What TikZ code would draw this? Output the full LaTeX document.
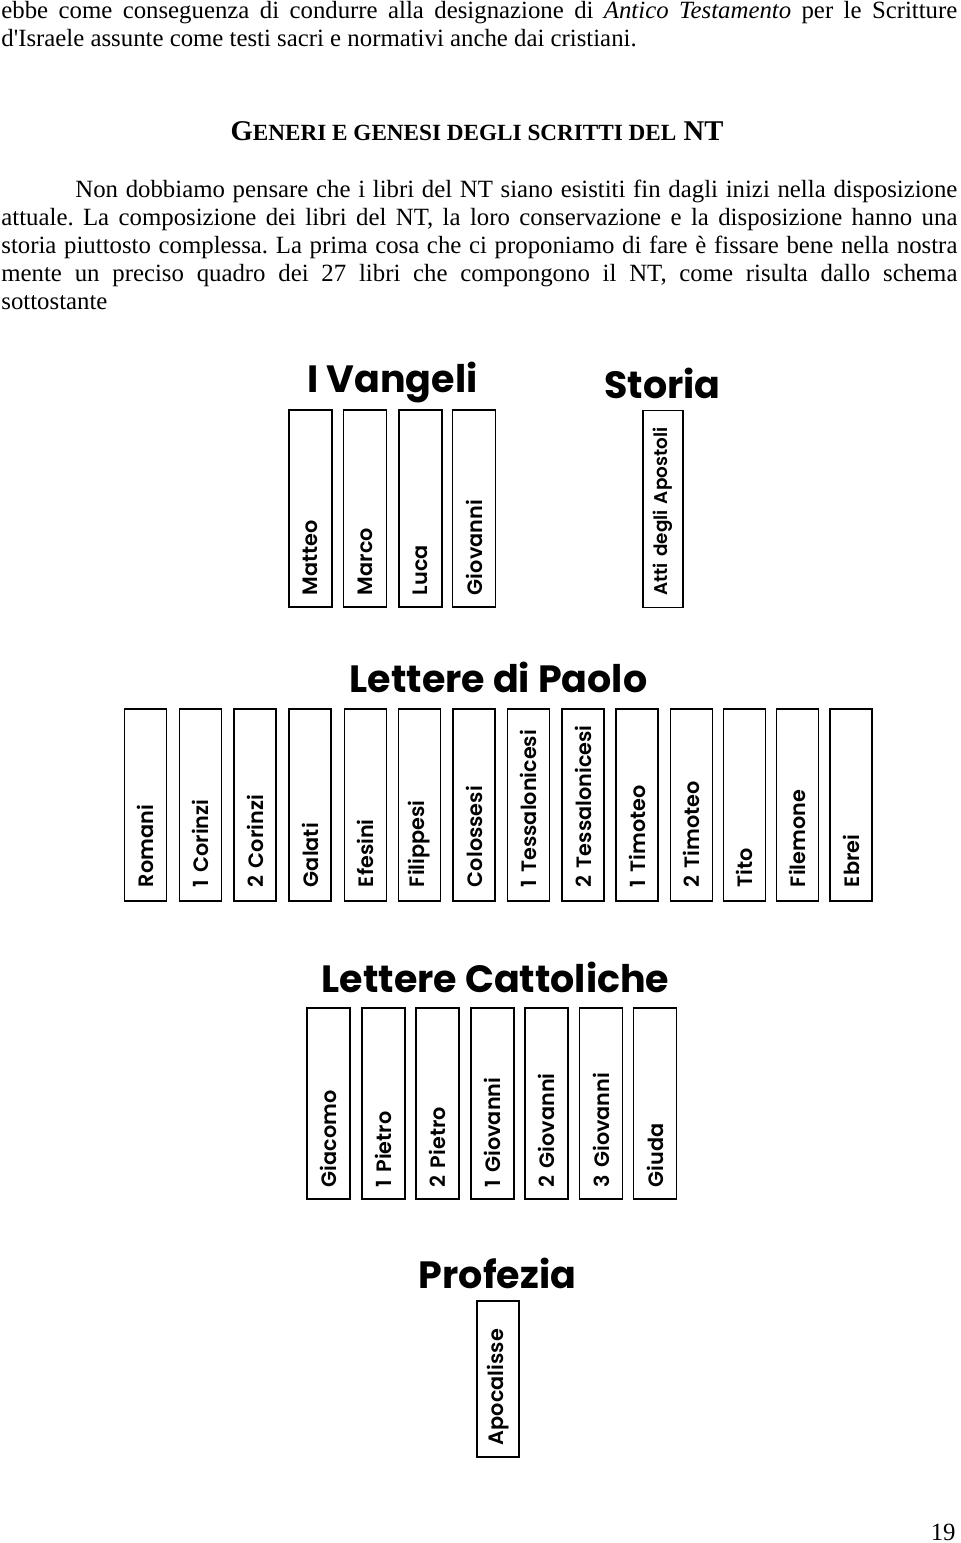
\documentclass[tikz,border=0pt]{standalone}
\usepackage{fontspec}
\setmainfont{Liberation Serif}
\newfontfamily\bibfont{Poppins}
\newfontfamily\bookfont{Poppins SemiBold}
\frenchspacing
\tikzstyle{testo} = [inner sep=0pt, anchor=base west, text width=478pt, align=justify, font=\fontsize{12.4}{14}\selectfont]
\tikzstyle{genre} = [inner sep=0pt, anchor=base, font=\bibfont\bfseries\fontsize{19}{22}\selectfont]
\tikzstyle{book} = [rectangle, draw, line width=0.6pt, rotate=90, inner xsep=6pt, inner ysep=0pt, align=left, font=\bookfont\fontsize{10.4}{12}\selectfont]
\tikzstyle{gospel} = [book, minimum width=98.5pt, minimum height=21.5pt, text width=86.5pt]
\tikzstyle{pauline} = [book, minimum width=96pt, minimum height=21pt, inner xsep=7pt, text width=82pt]
\tikzstyle{catholic} = [book, minimum width=95.5pt, minimum height=21.5pt, text width=83.5pt]
\tikzstyle{prophecy} = [book, minimum width=78pt, minimum height=21pt, text width=66pt]

\begin{document}
\begin{tikzpicture}[x=0.5pt, y=-0.5pt]
            \useasboundingbox (0,0) rectangle (960,1543);

            \node [testo] at (1,18) (intro) {ebbe come conseguenza di condurre alla designazione di \textit{Antico Testamento} per le Scritture\linebreak d\textquotesingle Israele assunte come testi sacri e normativi anche dai cristiani.};
            \node [anchor=base, inner sep=0pt, font=\bfseries\fontsize{14.3}{16}\selectfont] at (477,140) (titolo) {G{\fontsize{11.6}{13}\selectfont ENERI E GENESI DEGLI SCRITTI DEL} NT};
            \node [testo] at (1,197) (paragrafo) {\hspace*{37pt}Non dobbiamo pensare che i libri del NT siano esistiti fin dagli inizi nella disposizione\linebreak attuale. La composizione dei libri del NT, la loro conservazione e la disposizione hanno una\linebreak storia piuttosto complessa. La prima cosa che ci proponiamo di fare è fissare bene nella nostra\linebreak mente un preciso quadro dei 27 libri che compongono il NT, come risulta dallo schema\linebreak sottostante};

            \node [genre] at (392.5,392) (vangeli) {I Vangeli};
            \node [gospel] at (310.5,508.5) (matteo) {Matteo};
            \node [gospel] at (365,508.5) (marco) {Marco};
            \node [gospel] at (420.5,508.5) (luca) {Luca};
            \node [gospel] at (474,508.5) (giovanni) {Giovanni};

            \node [genre] at (662.5,398) (storia) {Storia};
            \node [gospel, minimum height=20pt, font=\bookfont\fontsize{9.2}{11}\selectfont] at (663,509) (atti) {Atti degli Apostoli};

            \node [genre] at (498.5,692) (paolo) {Lettere di Paolo};
            \node [pauline] at (145.5,805) (romani) {Romani};
            \node [pauline] at (200.5,805) (corinzi1) {1 Corinzi};
            \node [pauline] at (255,805) (corinzi2) {2 Corinzi};
            \node [pauline] at (310,805) (galati) {Galati};
            \node [pauline] at (365.5,805) (efesini) {Efesini};
            \node [pauline] at (419.5,805) (filippesi) {Filippesi};
            \node [pauline] at (474,805) (colossesi) {Colossesi};
            \node [pauline] at (528.5,805) (tessalonicesi1) {1 Tessalonicesi};
            \node [pauline] at (583,805) (tessalonicesi2) {2 Tessalonicesi};
            \node [pauline] at (637,805) (timoteo1) {1 Timoteo};
            \node [pauline] at (691.5,805) (timoteo2) {2 Timoteo};
            \node [pauline] at (744.5,805) (tito) {Tito};
            \node [pauline] at (797.5,805) (filemone) {Filemone};
            \node [pauline] at (851,805) (ebrei) {Ebrei};

            \node [genre] at (495.5,992) (cattoliche) {Lettere Cattoliche};
            \node [catholic] at (328.5,1103.5) (giacomo) {Giacomo};
            \node [catholic] at (383.5,1103.5) (pietro1) {1 Pietro};
            \node [catholic] at (437.5,1103.5) (pietro2) {2 Pietro};
            \node [catholic] at (492.5,1103.5) (giovanni1) {1 Giovanni};
            \node [catholic] at (546.5,1103.5) (giovanni2) {2 Giovanni};
            \node [catholic] at (601,1103.5) (giovanni3) {3 Giovanni};
            \node [catholic] at (655,1103.5) (giuda) {Giuda};

            \node [genre] at (497.5,1288) (profezia) {Profezia};
            \node [prophecy] at (498,1379) (apocalisse) {Apocalisse};

            \node [anchor=base east, inner sep=0pt, font=\fontsize{12.4}{14}\selectfont] at (956,1540) (pagina) {19};
\end{tikzpicture}
\end{document}
